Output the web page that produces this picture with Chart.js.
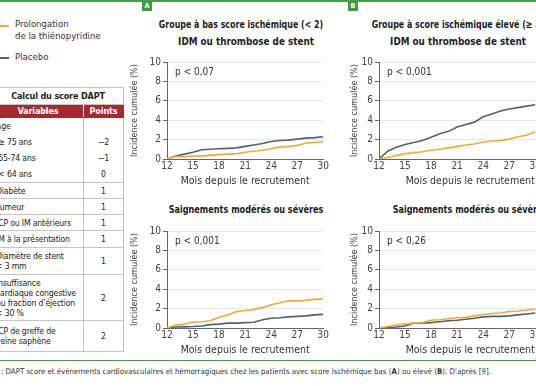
<!DOCTYPE html>
<html><head><meta charset="utf-8">
<script src="https://cdn.jsdelivr.net/npm/chart.js@4"></script>
<style>
html,body{margin:0;padding:0;width:536px;height:386px;overflow:hidden;background:#fff;}
body{position:relative;font-family:"DejaVu Sans Condensed","Liberation Sans Narrow",Roboto,sans-serif;color:#222;}
.abs{position:absolute;white-space:nowrap;}
.ttl{position:absolute;width:300px;text-align:center;font-weight:bold;font-size:11px;line-height:14px;white-space:nowrap;color:#222;transform-origin:50% 50%;}
.pv{position:absolute;font-size:10px;line-height:12px;color:#333;white-space:nowrap;}
canvas{position:absolute;}
table{position:absolute;left:-8px;top:87px;width:131px;border-collapse:collapse;font-size:8.6px;line-height:10px;color:#222;table-layout:fixed;}
td{border:1px solid #c4c4c4;padding:0 0 0 3px;vertical-align:middle;white-space:nowrap;overflow:hidden;letter-spacing:-0.15px;}
td.p{text-align:center;padding:0;}
.hd td{background:#a42a2e;color:#fff;font-weight:bold;text-align:center;border-color:#a42a2e;font-size:9px;}
.tt td{font-weight:bold;text-align:center;font-size:9px;}
.age{line-height:16px;}
</style></head>
<body>
<div class="abs" style="left:0;top:0;width:536px;height:2px;background:#4a9e4e"></div>
<div class="abs" style="left:0;top:360px;width:536px;height:1px;background:#4a9e4e"></div>
<div class="abs" style="left:142px;top:1px;width:10px;height:10px;background:#3f9a46;color:#fff;font-weight:bold;font-size:7px;line-height:10px;text-align:center">A</div>
<div class="abs" style="left:348px;top:1px;width:10px;height:10px;background:#3f9a46;color:#fff;font-weight:bold;font-size:7px;line-height:10px;text-align:center">B</div>

<div class="abs" style="left:0;top:25px;width:9px;height:1.5px;background:#f2a93b"></div>
<div class="abs" style="left:15px;top:18px;font-size:9.5px;line-height:12px;color:#333">Prolongation<br>de la thiénopyridine</div>
<div class="abs" style="left:0;top:57px;width:9px;height:1.5px;background:#4d6470"></div>
<div class="abs" style="left:15px;top:51px;font-size:9.5px;line-height:12px;color:#333">Placebo</div>

<table>
<colgroup><col style="width:91px"><col style="width:40px"></colgroup>
<tr class="tt"><td colspan="2" style="height:16px;padding:0">Calcul du score DAPT</td></tr>
<tr class="hd"><td style="height:12px;border-right:1px solid #fff;padding:0">Variables</td><td class="p">Points</td></tr>
<tr><td class="age" style="height:64px">Age<br>&nbsp;≥ 75 ans<br>&nbsp;65-74 ans<br>&nbsp;&lt; 64 ans</td><td class="p age">&nbsp;<br>−2<br>−1<br>0</td></tr>
<tr><td style="height:15px">Diabète</td><td class="p">1</td></tr>
<tr><td style="height:15px">Fumeur</td><td class="p">1</td></tr>
<tr><td style="height:15px">ICP ou IM antérieurs</td><td class="p">1</td></tr>
<tr><td style="height:16px">IM à la présentation</td><td class="p">1</td></tr>
<tr><td style="height:26px">Diamètre de stent<br>&lt; 3 mm</td><td class="p">1</td></tr>
<tr><td style="height:45px">Insuffisance<br>cardiaque congestive<br>ou fraction d’éjection<br>&lt; 30 %</td><td class="p">2</td></tr>
<tr><td style="height:30px">ICP de greffe de<br>veine saphène</td><td class="p">2</td></tr>
</table>

<div class="ttl" style="left:91px;top:18px;transform:scaleX(0.8)">Groupe à bas score ischémique (&lt; 2)</div>
<div class="ttl" style="left:96px;top:35px;transform:scaleX(0.89)">IDM ou thrombose de stent</div>
<div class="ttl" style="left:96px;top:203px;transform:scaleX(0.82)">Saignements modérés ou sévères</div>
<div class="ttl" style="left:308px;top:18px;transform:scaleX(0.8)">Groupe à score ischémique élevé (≥ 2)</div>
<div class="ttl" style="left:308px;top:35px;transform:scaleX(0.89)">IDM ou thrombose de stent</div>
<div class="ttl" style="left:320px;top:203px;transform:scaleX(0.82)">Saignements modérés ou sévères</div>

<canvas id="cA1" width="201" height="134" style="left:129px;top:54px"></canvas>
<canvas id="cB1" width="219" height="134" style="left:349px;top:54px"></canvas>
<canvas id="cA2" width="201" height="134" style="left:129px;top:223px"></canvas>
<canvas id="cB2" width="219" height="134" style="left:349px;top:223px"></canvas>

<div class="pv" style="left:175px;top:66px">p &lt; 0,07</div>
<div class="pv" style="left:387px;top:66px">p &lt; 0,001</div>
<div class="pv" style="left:175px;top:235px">p &lt; 0,001</div>
<div class="pv" style="left:387px;top:235px">p &lt; 0,26</div>

<div class="abs" style="left:1px;top:367px;font-size:7.8px;line-height:10px;color:#333">: DAPT score et événements cardiovasculaires et hémorragiques chez les patients avec score ischémique bas (<b>A</b>) ou élevé (<b>B</b>). D’après [9].</div>

<script>
const months = [12,13,14,15,16,17,18,19,20,21,22,23,24,25,26,27,28,29,30];
const aIdmProlong  = [0,0.25,0.25,0.3,0.3,0.4,0.45,0.5,0.55,0.7,0.8,0.9,1.05,1.25,1.3,1.4,1.65,1.7,1.75];
const aIdmPlacebo  = [0,0.3,0.5,0.7,0.95,1.0,1.05,1.1,1.15,1.3,1.45,1.6,1.8,1.9,1.95,2.05,2.15,2.2,2.3];
const bIdmProlong  = [0,0.15,0.35,0.55,0.65,0.75,0.9,1.0,1.15,1.3,1.45,1.55,1.75,1.85,1.9,2.05,2.3,2.45,2.8];
const bIdmPlacebo  = [0,0.8,1.2,1.5,1.7,1.9,2.25,2.6,2.85,3.3,3.55,3.8,4.35,4.65,4.95,5.15,5.3,5.45,5.6];
const aBleedProlong = [0,0.3,0.4,0.6,0.65,0.75,1.1,1.35,1.7,1.8,1.9,2.1,2.4,2.6,2.8,2.8,2.85,2.95,3.0];
const aBleedPlacebo = [0,0.1,0.12,0.15,0.2,0.35,0.4,0.5,0.5,0.55,0.6,0.85,1.0,1.05,1.15,1.2,1.25,1.35,1.4];
const bBleedProlong = [0,0.15,0.3,0.4,0.5,0.55,0.8,0.85,0.95,1.05,1.1,1.25,1.4,1.5,1.55,1.7,1.75,1.85,1.95];
const bBleedPlacebo = [0,0.05,0.1,0.2,0.5,0.5,0.55,0.65,0.75,0.8,0.9,1.0,1.15,1.2,1.2,1.25,1.35,1.45,1.55];
const seriesNames = ['Prolongation de la thiénopyridine','Placebo'];
const xTitle = 'Mois depuis le recrutement';
const yTitle = 'Incidence cumulée (%)';

const FONT = '"DejaVu Sans Condensed","Liberation Sans Narrow",Roboto,sans-serif';
const ORANGE = '#f2a93b', GRAY = '#4d6470';

function makeChart(id, prolong, placebo, xMax, yWidth) {
  const pts = arr => months.map((m, i) => ({x: m, y: arr[i]}));
  new Chart(document.getElementById(id), {
    type: 'line',
    data: {datasets: [
      {label: seriesNames[0], data: pts(prolong), borderColor: ORANGE, borderWidth: 1.6, pointRadius: 0, tension: 0, fill: false},
      {label: seriesNames[1], data: pts(placebo), borderColor: GRAY, borderWidth: 1.6, pointRadius: 0, tension: 0, fill: false}
    ]},
    options: {
      responsive: false, animation: false,
      layout: {padding: {top: 6, right: 6, left: 0, bottom: 0}},
      plugins: {legend: {display: false}, tooltip: {enabled: false}},
      scales: {
        x: {type: 'linear', min: 12, max: xMax,
            ticks: {stepSize: 3, autoSkip: false, maxRotation: 0, padding: 1, color: '#444', font: {family: FONT, size: 10}},
            grid: {display: false, drawTicks: false},
            border: {display: true, color: '#666', width: 1},
            title: {display: true, text: xTitle, color: '#333', padding: 0, font: {family: FONT, size: 10.5}},
            afterFit: s => { s.height = 29; }},
        y: {min: 0, max: 10,
            ticks: {stepSize: 2, padding: 2, color: '#444', font: {family: FONT, size: 10}},
            grid: {color: '#e8e8e8', drawTicks: true, tickLength: 4, tickColor: '#666'},
            border: {display: true, color: '#666', width: 1},
            title: {display: true, text: yTitle, color: '#444', padding: 0, font: {family: FONT, size: 9}},
            afterFit: s => { s.width = yWidth; }}
      }
    }
  });
}
makeChart('cA1', aIdmProlong, aIdmPlacebo, 30, 38);
makeChart('cB1', bIdmProlong, bIdmPlacebo, 33, 30);
makeChart('cA2', aBleedProlong, aBleedPlacebo, 30, 38);
makeChart('cB2', bBleedProlong, bBleedPlacebo, 33, 30);
</script>
</body></html>
